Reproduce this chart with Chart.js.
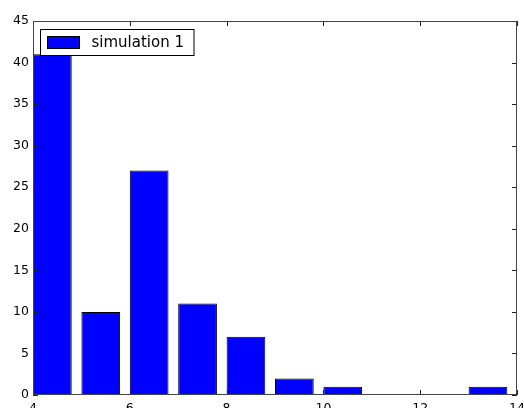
<!DOCTYPE html>
<html>
<head>
<meta charset="utf-8">
<script src="https://cdn.jsdelivr.net/npm/chart.js@4"></script>
<style>
  html, body { margin: 0; padding: 0; background: #fff; }
  #wrap { width: 524px; height: 408px; overflow: hidden; }
</style>
</head>
<body>
<div id="wrap"><canvas id="chart" width="524" height="408"></canvas></div>
<script>
// histogram data (bin starts, counts), bars cover 80% of each unit bin
const binStarts = [4, 5, 6, 7, 8, 9, 10, 11, 12, 13];
const counts = [41, 10, 27, 11, 7, 2, 1, 0, 0, 1];
const barFraction = 0.8;
const xTicks = [4, 6, 8, 10, 12, 14];
const yTicks = [0, 5, 10, 15, 20, 25, 30, 35, 40, 45];
const seriesLabel = "simulation 1";

const FONT = "'DejaVu Sans', sans-serif";

// inward ticks on all four sides + frame
const frameTicks = {
    id: "frameTicks",
    afterDraw(chart) {
        const { ctx, chartArea: a, scales } = chart;
        const len = 5;
        ctx.save();
        ctx.strokeStyle = "#222";
        ctx.lineWidth = 1;
        ctx.beginPath();
        xTicks.forEach(v => {
            const x = Math.round(scales.x.getPixelForValue(v)) + 0.5;
            ctx.moveTo(x, a.bottom); ctx.lineTo(x, a.bottom - len);
            ctx.moveTo(x, a.top); ctx.lineTo(x, a.top + len);
        });
        yTicks.forEach(v => {
            const y = Math.round(scales.y.getPixelForValue(v)) + 0.5;
            ctx.moveTo(a.left, y); ctx.lineTo(a.left + len, y);
            ctx.moveTo(a.right, y); ctx.lineTo(a.right - len, y);
        });
        ctx.stroke();
        ctx.strokeStyle = "#444";
        ctx.strokeRect(Math.round(a.left) + 0.5, Math.round(a.top) + 0.5,
            Math.round(a.right - a.left) - 1, Math.round(a.bottom - a.top) - 1);
        ctx.restore();
    }
};

// matplotlib-like legend inside the upper left corner
const boxLegend = {
    id: "boxLegend",
    afterDraw(chart) {
        const { ctx, chartArea: a } = chart;
        const ds = chart.data.datasets[0];
        ctx.save();
        ctx.font = "15px " + FONT;
        const tw = ctx.measureText(ds.label).width;
        const bx = Math.round(a.left) + 7.5, by = Math.round(a.top) + 8.5;
        const bw = 51 + tw + 10, bh = 26;
        ctx.fillStyle = "#fff";
        ctx.fillRect(bx, by, bw, bh);
        ctx.strokeStyle = "#000";
        ctx.lineWidth = 1;
        ctx.strokeRect(bx, by, bw, bh);
        ctx.fillStyle = ds.backgroundColor;
        ctx.fillRect(bx + 7, by + 7, 32, 12);
        ctx.strokeRect(bx + 7, by + 7, 32, 12);
        ctx.fillStyle = "#000";
        ctx.textBaseline = "middle";
        ctx.fillText(ds.label, bx + 51, by + bh / 2 + 1);
        ctx.restore();
    }
};

new Chart(document.getElementById("chart"), {
    type: "bar",
    data: {
        datasets: [{
            label: seriesLabel,
            data: binStarts.map((b, i) => ({ x: b + barFraction / 2, y: counts[i] })),
            backgroundColor: "#0000ff",
            borderColor: "#000000",
            borderWidth: 1,
            borderSkipped: false,
            categoryPercentage: 1,
            barPercentage: barFraction,
        }],
    },
    options: {
        responsive: false,
        animation: false,
        devicePixelRatio: 1,
        layout: { padding: { top: 21, right: 7, left: 0, bottom: 0 } },
        plugins: {
            legend: { display: false },
            tooltip: { enabled: false },
        },
        scales: {
            x: {
                type: "linear",
                min: 4,
                max: 14,
                offset: false,
                grid: { display: false, drawTicks: false },
                border: { display: false },
                afterBuildTicks: s => { s.ticks = xTicks.map(v => ({ value: v })); },
                afterFit: s => {
                    s.height = 13;
                    s.paddingLeft = 0;
                    s.paddingRight = 0;
                },
                ticks: {
                    padding: 6,
                    maxRotation: 0,
                    autoSkip: false,
                    color: "#000",
                    font: { family: FONT, size: 12.5 },
                },
            },
            y: {
                min: 0,
                max: 45,
                grid: { display: false, drawTicks: false },
                border: { display: false },
                afterBuildTicks: s => { s.ticks = yTicks.map(v => ({ value: v })); },
                afterFit: s => {
                    s.width = 33;
                    s.paddingTop = 0;
                    s.paddingBottom = 0;
                },
                ticks: {
                    padding: 4,
                    color: "#000",
                    font: { family: FONT, size: 12.5 },
                },
            },
        },
    },
    plugins: [frameTicks, boxLegend],
});
</script>
</body>
</html>
